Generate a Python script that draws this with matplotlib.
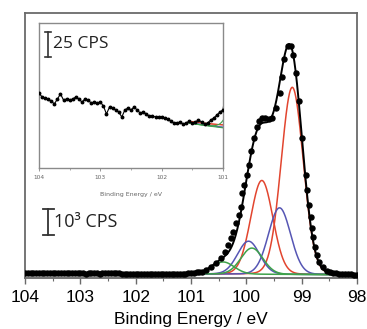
import numpy as np
import matplotlib
matplotlib.use("Agg")
import matplotlib.pyplot as plt
from matplotlib.ticker import MultipleLocator

# ---------------- data ----------------
# low-intensity region 104.00 -> 101.00 eV, 0.05 eV steps (CPS)
base_be = [104.00, 103.95, 103.90, 103.85, 103.80, 103.75, 103.70, 103.65, 103.60, 103.55,
           103.50, 103.45, 103.40, 103.35, 103.30, 103.25, 103.20, 103.15, 103.10, 103.05,
           103.00, 102.95, 102.90, 102.85, 102.80, 102.75, 102.70, 102.65, 102.60, 102.55,
           102.50, 102.45, 102.40, 102.35, 102.30, 102.25, 102.20, 102.15, 102.10, 102.05,
           102.00, 101.95, 101.90, 101.85, 101.80, 101.75, 101.70, 101.65, 101.60, 101.55,
           101.50, 101.45, 101.40, 101.35, 101.30, 101.25, 101.20, 101.15, 101.10, 101.05,
           101.00]
base_cps = [194, 190, 189, 188, 186, 183, 188, 193, 187, 188,
            187, 188, 190, 188, 185, 188, 187, 184, 185, 184,
            185, 181, 173, 180, 179, 177, 175, 170, 177, 179,
            177, 180, 177, 174, 175, 173, 171, 171, 170, 170,
            170, 169, 168, 166, 164, 164, 165, 163, 164, 166,
            164, 165, 167, 165, 163, 164, 167, 169, 172, 175,
            177]
# peak region
peak_be = [100.95, 100.90, 100.85, 100.80, 100.72, 100.63, 100.54, 100.46, 100.39, 100.33,
           100.28, 100.24, 100.19, 100.13, 100.10, 100.07, 100.04, 99.99, 99.95, 99.91,
           99.86, 99.81, 99.77, 99.72, 99.66, 99.59, 99.53, 99.46, 99.40, 99.36,
           99.32, 99.25, 99.19, 99.15, 99.10, 99.04, 98.99, 98.92, 98.90, 98.87,
           98.84, 98.82, 98.79, 98.76, 98.73, 98.68, 98.62, 98.55, 98.49, 98.43,
           98.38, 98.32, 98.27, 98.22, 98.16, 98.11, 98.05, 98.00]
peak_cps = [200, 219, 231, 250, 308, 412, 566, 758, 1013, 1271,
            1528, 1783, 2118, 2426, 2745, 3261, 3581, 3966, 4351, 4901,
            5390, 5825, 6056, 6148, 6148, 6110, 6148, 6533, 7111, 7750,
            8420, 8944, 8944, 8586, 7904, 6815, 5378, 3966, 3388, 2811,
            2360, 1913, 1590, 1205, 886, 628, 435, 281, 231, 200,
            181, 166, 154, 146, 139, 135, 131, 127]

# fitted components (Si 2p doublets): centre (eV), height (CPS), FWHM (eV)
red_centres = [99.17, 99.72]
red_heights = [7200, 3610]
blue_centres = [99.40, 99.96]
blue_heights = [2560, 1270]
green_centres = [99.90, 100.42]
green_heights = [1005, 466]
fwhm = 0.47
lorentz_frac = 0.04
# background end points (eV, CPS)
bg_be = [101.55, 98.0]
bg_cps = [163, 127]

be_all = np.array(base_be + peak_be)
cps_all = np.array(base_cps + peak_cps)

grid = np.linspace(bg_be[0], bg_be[1], 600)
bg = np.interp(grid, bg_be[::-1], bg_cps[::-1])


def pv(c, h):
    d = (grid - c) / fwhm
    g = np.exp(-4 * np.log(2) * d ** 2)
    l = 1.0 / (1 + 4 * d ** 2)
    return h * ((1 - lorentz_frac) * g + lorentz_frac * l)


comps = []
for cs, hs, col in [(red_centres, red_heights, '#e2452f'),
                    (blue_centres, blue_heights, '#5656b4'),
                    (green_centres, green_heights, '#3ea24a')]:
    for c, h in zip(cs, hs):
        comps.append((pv(c, h), col))
envelope = bg + sum(c for c, _ in comps)

# ---------------- figure ----------------
fig = plt.figure(figsize=(3.67, 3.29), dpi=100)
ax = fig.add_axes([25 / 367, 1 - 278 / 329, 332 / 367, 265 / 329])
frame = '#6a6a6a'

for y, col in comps:
    ax.plot(grid, bg + y, color=col, lw=1.1, zorder=2)
ax.plot(be_all, cps_all, 'o', color='black', ms=3.6, zorder=3)
ax.plot(grid, envelope, color='black', lw=1.4, zorder=4)
ax.plot(be_all[be_all > 101.5], cps_all[be_all > 101.5], color='black', lw=1.4, zorder=4)

ax.set_xlim(104, 98)
ax.set_ylim(0, 10200)
ax.set_yticks([])
ax.xaxis.set_major_locator(MultipleLocator(1))
ax.xaxis.set_minor_locator(MultipleLocator(0.5))
ax.tick_params(axis='x', which='major', direction='out', length=4, width=1, color=frame,
               labelsize=12.5, pad=5)
ax.tick_params(axis='x', which='minor', direction='out', length=2.5, width=0.8, color=frame)
for s in ax.spines.values():
    s.set_color(frame)
    s.set_linewidth(1.3)
for t in ax.get_xticklabels():
    t.set_fontfamily('Liberation Sans')
ax.set_xlabel('Binding Energy / eV', fontsize=12.5, fontfamily='Liberation Sans', labelpad=5)

# scale bar main (x axis is reversed: smaller eV is to the right)
sb_x = 103.58
sb_lo, sb_hi = 1655, 2655
ax.plot([sb_x, sb_x], [sb_lo, sb_hi], color='#333333', lw=1.3)
ax.plot([sb_x - 0.1, sb_x + 0.1], [sb_lo, sb_lo], color='#333333', lw=1.3)
ax.plot([sb_x - 0.1, sb_x + 0.1], [sb_hi, sb_hi], color='#333333', lw=1.3)
ax.text(sb_x - 0.11, (sb_lo + sb_hi) / 2, '10³ CPS', fontsize=13, fontfamily='Open Sans',
        va='center', ha='left', color='#222222')

# inset
ins = fig.add_axes([39 / 367, 1 - 168 / 329, 184 / 367, 145 / 329])
ins.plot(be_all, cps_all, 'o', color='black', ms=1.8, zorder=3)
ins.plot(be_all, cps_all, color='black', lw=0.8, zorder=3)
for y, col in comps:
    ins.plot(grid, bg + y, color=col, lw=0.8, zorder=2)
ins.set_xlim(104, 101)
ins.set_ylim(119, 264)
ins.set_yticks([])
ins.set_xticks([104, 103, 102, 101])
ins.set_xticklabels(['104', '103', '102', '101'])
ins.xaxis.set_minor_locator(MultipleLocator(0.5))
ins.tick_params(axis='x', which='major', direction='out', length=2, width=0.6, color='#888888',
                labelsize=4.2, labelcolor='#666666', pad=3)
ins.tick_params(axis='x', which='minor', direction='out', length=1.5, width=0.5, color='#888888')
for s in ins.spines.values():
    s.set_color('#8a8a8a')
    s.set_linewidth(1.0)
ins.set_xlabel('Binding Energy / eV', fontsize=4.5, color='#666666', labelpad=9)

ix = 103.85
ilo, ihi = 230, 255
ins.plot([ix, ix], [ilo, ihi], color='#333333', lw=1.2)
ins.plot([ix - 0.05, ix + 0.05], [ilo, ilo], color='#333333', lw=1.2)
ins.plot([ix - 0.05, ix + 0.05], [ihi, ihi], color='#333333', lw=1.2)
ins.text(ix - 0.085, (ilo + ihi) / 2, '25 CPS', fontsize=12.5, fontfamily='Open Sans',
         va='center', ha='left', color='#222222')

fig.savefig('out.png', dpi=100)
